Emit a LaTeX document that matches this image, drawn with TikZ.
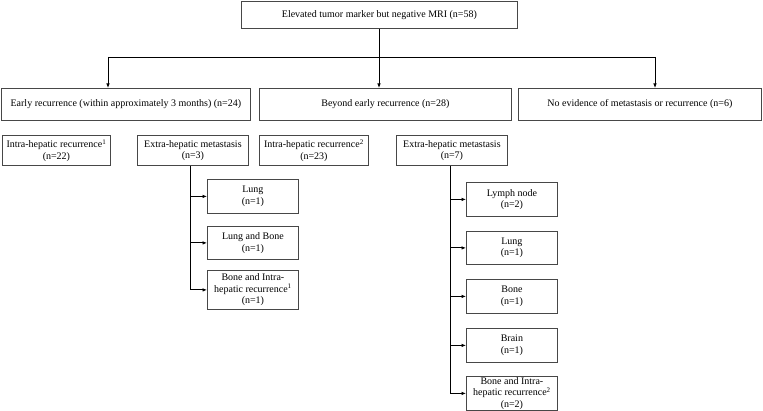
\documentclass[tikz,border=0pt]{standalone}
\usepackage{fontspec}
\setmainfont{Liberation Serif}
\usetikzlibrary{arrows.meta,calc}
\begin{document}
\begin{tikzpicture}[x=1pt,y=-1pt,
  box/.style={draw=black!72, line width=0.8pt, align=center, inner sep=1pt,
    anchor=north west, font=\fontsize{10}{11.6}\selectfont},
  conn/.style={draw=black, line width=0.8pt},
  arr/.style={conn, -{Latex[length=4.5pt,width=3.6pt]}}]
\useasboundingbox (0,0) rectangle (763,411);
% top
\node[box, minimum width=276pt, minimum height=27pt] (top) at (241,1) {Elevated tumor marker but negative MRI (n=58)};
% row 2
\node[box, minimum width=249pt, minimum height=32pt] (A) at (1,88) {Early recurrence (within approximately 3 months) (n=24)};
\node[box, minimum width=252pt, minimum height=32pt] (B) at (259,88) {Beyond early recurrence (n=28)};
\node[box, minimum width=243pt, minimum height=32pt] (C) at (518,88) {No evidence of metastasis or recurrence (n=6)};
% row 3
\node[box, minimum width=108pt, minimum height=30pt] (D1) at (2,135) {Intra-hepatic recurrence\textsuperscript{1}\\(n=22)};
\node[box, minimum width=111pt, minimum height=30pt] (D2) at (137,135) {Extra-hepatic metastasis\\(n=3)};
\node[box, minimum width=109pt, minimum height=30pt] (D3) at (259,135) {Intra-hepatic recurrence\textsuperscript{2}\\(n=23)};
\node[box, minimum width=111pt, minimum height=30pt] (D4) at (396,135) {Extra-hepatic metastasis\\(n=7)};
% left sub boxes
\node[box, minimum width=91pt, minimum height=34pt] (L1) at (207,179) {Lung\\(n=1)};
\node[box, minimum width=91pt, minimum height=33pt] (L2) at (207,226) {Lung and Bone\\(n=1)};
\node[box, minimum width=91pt, minimum height=39pt, inner sep=0pt] (L3) at (207,270) {Bone and Intra-\\hepatic recurrence\textsuperscript{1}\\(n=1)};
% right sub boxes
\node[box, minimum width=91pt, minimum height=34pt] (R1) at (466,182) {Lymph node\\(n=2)};
\node[box, minimum width=91pt, minimum height=33pt] (R2) at (466,231) {Lung\\(n=1)};
\node[box, minimum width=91pt, minimum height=34pt] (R3) at (466,279) {Bone\\(n=1)};
\node[box, minimum width=91pt, minimum height=34pt] (R4) at (466,328) {Brain\\(n=1)};
\node[box, minimum width=91pt, minimum height=34pt, inner sep=0pt] (R5) at (466,376) {Bone and Intra-\\hepatic recurrence\textsuperscript{2}\\(n=2)};
% connectors
\coordinate (fork) at (379,57);
\coordinate (fl) at (108,57);
\coordinate (fr) at (655,57);
\draw[conn] (top.south -| fork) -- (fork);
\draw[conn] (fl) -- (fr);
\draw[arr] (fl) -- (fl |- A.north);
\draw[arr] (fork) -- (fork |- B.north);
\draw[arr] (fr) -- (fr |- C.north);
\coordinate (lx) at (190,0);
\coordinate (rx) at (450,0);
\draw[conn] (D2.south -| lx) -- (L3.west -| lx);
\draw[arr] (L1.west -| lx) -- (L1.west);
\draw[arr] (L2.west -| lx) -- (L2.west);
\draw[arr] (L3.west -| lx) -- (L3.west);
\draw[conn] (D4.south -| rx) -- (R5.west -| rx);
\draw[arr] (R1.west -| rx) -- (R1.west);
\draw[arr] (R2.west -| rx) -- (R2.west);
\draw[arr] (R3.west -| rx) -- (R3.west);
\draw[arr] (R4.west -| rx) -- (R4.west);
\draw[arr] (R5.west -| rx) -- (R5.west);
\end{tikzpicture}
\end{document}
